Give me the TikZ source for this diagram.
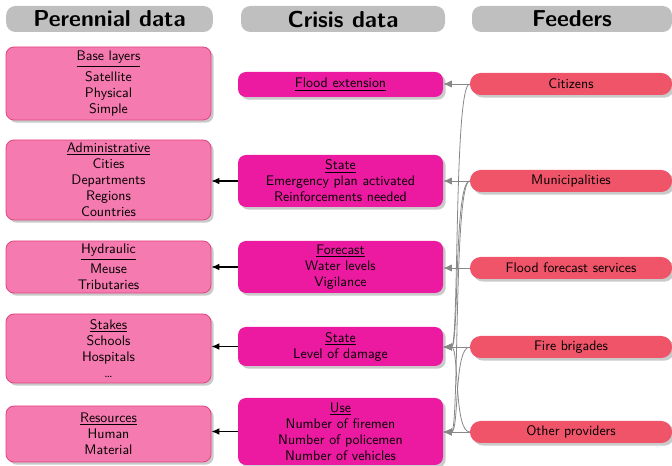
\documentclass[tikz,border=0pt]{standalone}
\usetikzlibrary{shadows,arrows.meta}

\definecolor{headgray}{HTML}{BFBFBF}
\definecolor{perfill}{HTML}{F57AAF}
\definecolor{perline}{HTML}{E2447F}
\definecolor{crisfill}{HTML}{EC1AA0}
\definecolor{feedfill}{HTML}{EF5469}
\definecolor{feedline}{HTML}{888888}

% title of a box, underlined; the deep variant sits its rule lower
\newcommand\boxtitle[1]{\underline{#1}}
\newcommand\deeptitle[1]{\underline{#1\rule[-3pt]{0pt}{1pt}}}

\begin{document}
\begin{tikzpicture}[x=0.75pt,y=-0.75pt,font=\sffamily\fontsize{10.4}{12}\selectfont,
  header/.style={fill=headgray, rounded corners=7pt, minimum width=155pt,
    minimum height=19.5pt, inner sep=0pt, font=\sffamily\LARGE\bfseries},
  boxbase/.style={rounded corners=6pt, align=center, inner sep=0pt,
    minimum width=153.75pt,
    drop shadow={shadow xshift=2pt, shadow yshift=-2pt, opacity=0.35, fill=black!60}},
  perbox/.style={boxbase, fill=perfill, draw=perline, line width=0.6pt},
  crisbox/.style={boxbase, fill=crisfill},
  feedbox/.style={boxbase, fill=feedfill, rounded corners=8pt,
    minimum width=151.5pt, minimum height=16.5pt},
  feed/.style={draw=feedline, line width=0.6pt, -{Latex[length=6.5pt,width=5.5pt]}},
  bent/.style={feed, out=180, in=0, out distance=12pt, in distance=12pt},
  toper/.style={draw=black, line width=0.8pt, -{Latex[length=6pt,width=5pt]}}]

\useasboundingbox (0,0) rectangle (672,466);

% column headers
\node[header] (hper) at (109.5,19) {Perennial data};
\node[header, minimum width=153pt] (hcri) at (343,19) {Crisis data};
\node[header, minimum width=150pt] (hfee) at (572,19) {Feeders};

% perennial data
\node[perbox, minimum height=54.75pt] (base) at (108.5,83.5)
  {\deeptitle{Base layers}\\[2pt]Satellite\\Physical\\Simple};
\node[perbox, minimum height=60pt] (admin) at (108.5,180)
  {\boxtitle{Administrative}\\Cities\\Departments\\Regions\\Countries};
\node[perbox, minimum height=39pt] (hydro) at (108.5,267)
  {\deeptitle{Hydraulic}\\[2pt]Meuse\\Tributaries};
\node[perbox, minimum height=51.75pt] (stakes) at (108.5,348.5)
  {\boxtitle{Stakes}\\Schools\\Hospitals\\\dots};
\node[perbox, minimum height=42pt] (res) at (108.5,434)
  {\boxtitle{Resources}\\Human\\Material};

% crisis data
\node[crisbox, minimum height=18.75pt] (flood) at (340.5,84.5)
  {\boxtitle{Flood extension}};
\node[crisbox, minimum height=39pt] (emerg) at (340.5,181)
  {\boxtitle{State}\\Emergency plan activated\\Reinforcements needed};
\node[crisbox, minimum height=39pt] (fcast) at (340.5,267)
  {\boxtitle{Forecast}\\Water levels\\Vigilance};
\node[crisbox, minimum height=29.25pt] (damage) at (340.5,346.5)
  {\boxtitle{State}\\Level of damage};
\node[crisbox, minimum height=50.25pt] (use) at (340.5,431.5)
  {\boxtitle{Use}\\Number of firemen\\Number of policemen\\Number of vehicles};

% feeders
\node[feedbox] (cit) at (571,84) {Citizens};
\node[feedbox] (mun) at (571,181) {Municipalities};
\node[feedbox] (ffs) at (571,268) {Flood forecast services};
\node[feedbox] (fire) at (571,347) {Fire brigades};
\node[feedbox] (other) at (571,432) {Other providers};

% crisis data feeds perennial data
\draw[toper] (emerg.west) -- (emerg.west -| admin.east);
\draw[toper] (fcast.west) -- (fcast.west -| hydro.east);
\draw[toper] (damage.west) -- (damage.west -| stakes.east);
\draw[toper] (use.west) -- (use.west -| res.east);

% feeders supply crisis data
\draw[feed] (cit.west) -- (cit.west -| flood.east);
\draw[feed] (mun.west) -- (mun.west -| emerg.east);
\draw[feed] (ffs.west) -- (ffs.west -| fcast.east);
\draw[feed] (fire.west) -- (fire.west -| damage.east);
\draw[feed] (other.west) -- (other.west -| use.east);

\draw[bent] (cit.west) to (fire.west -| damage.east);
\draw[bent] (mun.west) to (fire.west -| damage.east);
\draw[bent] (mun.west) to (other.west -| use.east);
\draw[bent] (fire.west) to (other.west -| use.east);
\draw[bent] (other.west) to (fire.west -| damage.east);

\end{tikzpicture}
\end{document}
